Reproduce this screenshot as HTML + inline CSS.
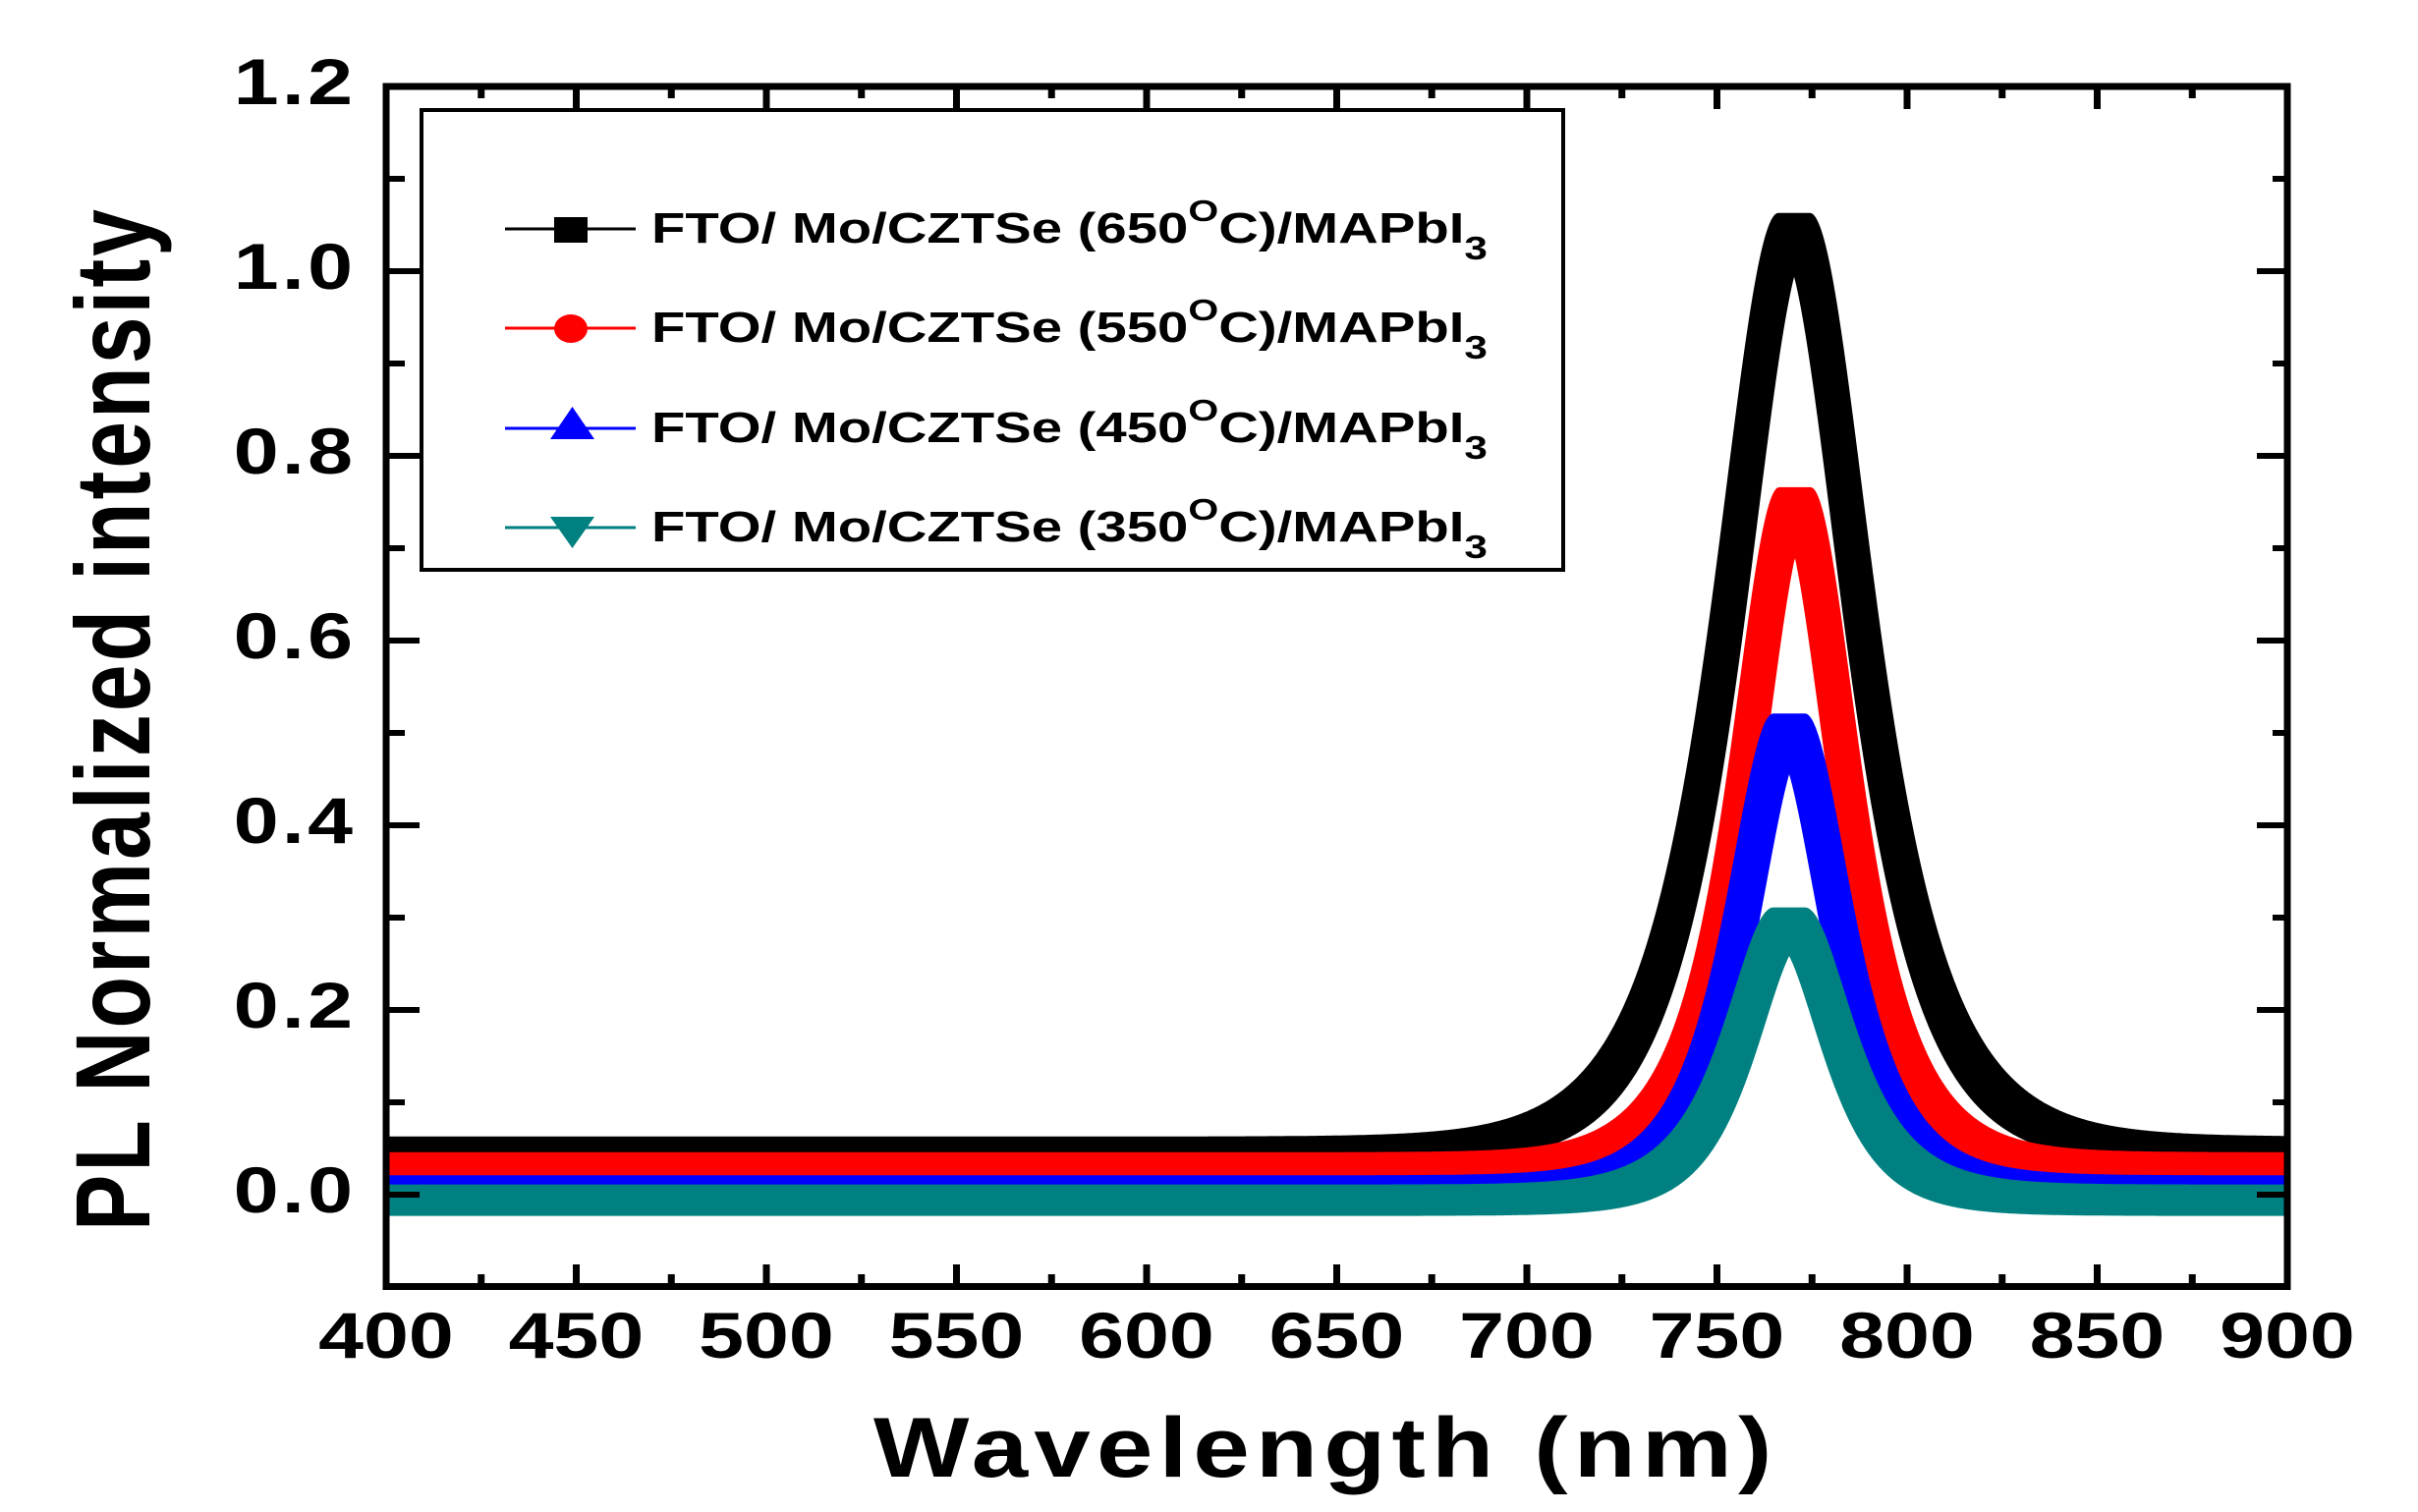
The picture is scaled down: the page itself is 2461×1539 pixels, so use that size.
<!DOCTYPE html>
<html>
<head>
<meta charset="utf-8">
<style>
  html,body{margin:0;padding:0;background:#fff;}
  body{width:2461px;height:1539px;overflow:hidden;}
  svg{display:block;}
  text{font-family:"Liberation Sans", Arial, sans-serif;font-weight:bold;fill:#000;}
</style>
</head>
<body>
<svg id="s" width="2461" height="1539" viewBox="0 0 2461 1539" xmlns="http://www.w3.org/2000/svg">
  <rect x="0" y="0" width="2461" height="1539" fill="#fff"/>
  <defs>
    <clipPath id="cp"><rect x="393" y="88" width="1935" height="1222"/></clipPath>
  </defs>

  <!-- curves -->
  <g id="curves" clip-path="url(#cp)"></g>

  <!-- frame -->
  <rect x="393" y="88" width="1935" height="1221.5" fill="none" stroke="#000" stroke-width="7"/>

  <!-- ticks -->
  <g stroke="#000" stroke-width="7">
    <!-- bottom major -->
    <path d="M586.5 1309.5V1287 M780 1309.5V1287 M973.5 1309.5V1287 M1167 1309.5V1287 M1360.5 1309.5V1287 M1554 1309.5V1287 M1747.5 1309.5V1287 M1941 1309.5V1287 M2134.5 1309.5V1287"/>
    <!-- bottom minor -->
    <path d="M489.75 1309.5V1297 M683.25 1309.5V1297 M876.75 1309.5V1297 M1070.25 1309.5V1297 M1263.75 1309.5V1297 M1457.25 1309.5V1297 M1650.75 1309.5V1297 M1844.25 1309.5V1297 M2037.75 1309.5V1297 M2231.25 1309.5V1297"/>
    <!-- top major -->
    <path d="M586.5 88V111 M780 88V111 M973.5 88V111 M1167 88V111 M1360.5 88V111 M1554 88V111 M1747.5 88V111 M1941 88V111 M2134.5 88V111"/>
    <!-- top minor -->
    <path d="M489.75 88V100 M683.25 88V100 M876.75 88V100 M1070.25 88V100 M1263.75 88V100 M1457.25 88V100 M1650.75 88V100 M1844.25 88V100 M2037.75 88V100 M2231.25 88V100"/>
  </g>
  <g stroke="#000" stroke-width="6">
    <!-- left major -->
    <path d="M393 1216H427 M393 1028H427 M393 840H427 M393 652H427 M393 464H427 M393 276H427"/>
    <!-- left minor -->
    <path d="M393 1122H412 M393 934H412 M393 746H412 M393 558H412 M393 370H412 M393 182H412"/>
    <!-- right major -->
    <path d="M2328 1216H2297 M2328 1028H2297 M2328 840H2297 M2328 652H2297 M2328 464H2297 M2328 276H2297"/>
    <!-- right minor -->
    <path d="M2328 1122H2313 M2328 934H2313 M2328 746H2313 M2328 558H2313 M2328 370H2313 M2328 182H2313"/>
  </g>

  <!-- y tick labels -->
  <g font-size="66" text-anchor="end">
    <text transform="translate(359,106) scale(1.25,1)" textLength="97" lengthAdjust="spacing">1.2</text>
    <text transform="translate(359,294) scale(1.25,1)" textLength="97" lengthAdjust="spacing">1.0</text>
    <text transform="translate(359,482) scale(1.25,1)" textLength="97" lengthAdjust="spacing">0.8</text>
    <text transform="translate(359,670) scale(1.25,1)" textLength="97" lengthAdjust="spacing">0.6</text>
    <text transform="translate(359,858) scale(1.25,1)" textLength="97" lengthAdjust="spacing">0.4</text>
    <text transform="translate(359,1046) scale(1.25,1)" textLength="97" lengthAdjust="spacing">0.2</text>
    <text transform="translate(359,1234) scale(1.25,1)" textLength="97" lengthAdjust="spacing">0.0</text>
  </g>

  <!-- x tick labels -->
  <g font-size="66" text-anchor="middle">
    <text transform="translate(393,1382) scale(1.25,1)">400</text>
    <text transform="translate(586.5,1382) scale(1.25,1)">450</text>
    <text transform="translate(780,1382) scale(1.25,1)">500</text>
    <text transform="translate(973.5,1382) scale(1.25,1)">550</text>
    <text transform="translate(1167,1382) scale(1.25,1)">600</text>
    <text transform="translate(1360.5,1382) scale(1.25,1)">650</text>
    <text transform="translate(1554,1382) scale(1.25,1)">700</text>
    <text transform="translate(1747.5,1382) scale(1.25,1)">750</text>
    <text transform="translate(1941,1382) scale(1.25,1)">800</text>
    <text transform="translate(2134.5,1382) scale(1.25,1)">850</text>
    <text transform="translate(2328,1382) scale(1.25,1)">900</text>
  </g>

  <!-- axis titles -->
  <text font-size="86" transform="translate(889,1503) scale(1.2,1)" textLength="762" lengthAdjust="spacing">Wavelength (nm)</text>
  <text font-size="86" transform="translate(152,1253) scale(1.25,1) rotate(-90)" textLength="1040" lengthAdjust="spacing">PL Normalized intensity</text>

  <!-- legend -->
  <rect x="429" y="112" width="1162" height="468" fill="#fff" stroke="#000" stroke-width="4"/>
  <g stroke-width="3">
    <line x1="514" y1="233" x2="647" y2="233" stroke="#000"/>
    <line x1="514" y1="334" x2="647" y2="334" stroke="#ff0000"/>
    <line x1="514" y1="436" x2="647" y2="436" stroke="#0000ff"/>
    <line x1="514" y1="537" x2="647" y2="537" stroke="#008080"/>
  </g>
  <rect x="564" y="221" width="34" height="26" fill="#000"/>
  <ellipse cx="581" cy="334.5" rx="17" ry="14.5" fill="#ff0000"/>
  <polygon points="582.5,414 560,447 605,447" fill="#0000ff"/>
  <polygon points="560,526 605,526 582.5,558" fill="#008080"/>

  <g font-size="44">
    <text transform="translate(663,247) scale(1.28,1)">FTO/ Mo/CZTSe (650<tspan font-size="31" dy="-22">O</tspan><tspan dy="22">C)/MAPbI</tspan><tspan font-size="33" dy="17">3</tspan></text>
    <text transform="translate(663,348) scale(1.28,1)">FTO/ Mo/CZTSe (550<tspan font-size="31" dy="-22">O</tspan><tspan dy="22">C)/MAPbI</tspan><tspan font-size="33" dy="17">3</tspan></text>
    <text transform="translate(663,450) scale(1.28,1)">FTO/ Mo/CZTSe (450<tspan font-size="31" dy="-22">O</tspan><tspan dy="22">C)/MAPbI</tspan><tspan font-size="33" dy="17">3</tspan></text>
    <text transform="translate(663,551) scale(1.28,1)">FTO/ Mo/CZTSe (350<tspan font-size="31" dy="-22">O</tspan><tspan dy="22">C)/MAPbI</tspan><tspan font-size="33" dy="17">3</tspan></text>
  </g>
</svg>
<script>
(function(){
  var X0=393,X1=2328,Y0=1216,K=940,H=16;
  // color, baseline, amplitude, center(nm), width(nm)
  var S=[["#000000",0.046,1.0,770.3,15.4],
         ["#ff0000",0.029,0.72,770.5,11.8],
         ["#0000ff",0.004,0.50,769.0,11.3],
         ["#008080",-0.006,0.30,769.0,11.5]];
  var g=document.getElementById('curves');
  var ns='http://www.w3.org/2000/svg';
  var N=X1-X0;
  S.forEach(function(s){
    var ys=[];
    for(var i=-H;i<=N+H;i++){
      var wl=400+i*500/N;
      var d=(wl-s[3])/s[4];
      var v=s[1]+s[2]*2/(Math.exp(d)+Math.exp(-d));
      ys.push(Y0-v*K);
    }
    var top=[],bot=[];
    for(var i=0;i<=N;i++){
      var mn=1e9,mx=-1e9;
      for(var j=i;j<=i+2*H;j++){
        var y=ys[j];
        if(y<mn)mn=y; if(y>mx)mx=y;
      }
      top.push((X0+i)+','+(mn-H).toFixed(1));
      bot.push((X0+i)+','+(mx+H).toFixed(1));
    }
    bot.reverse();
    var p=document.createElementNS(ns,'polygon');
    p.setAttribute('points',top.join(' ')+' '+bot.join(' '));
    p.setAttribute('fill',s[0]);
    g.appendChild(p);
  });
})();
</script>
</body>
</html>
